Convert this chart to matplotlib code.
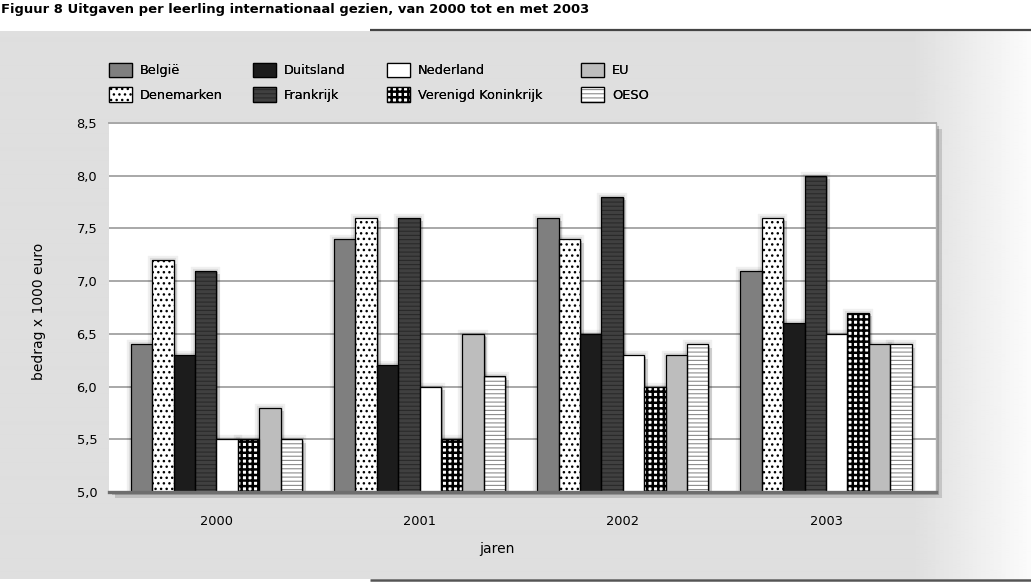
import numpy as np
import matplotlib
matplotlib.use('Agg')
import matplotlib.pyplot as plt
from matplotlib.patches import Patch, Rectangle
from matplotlib.legend_handler import HandlerTuple, HandlerPatch
import matplotlib.patheffects as pe
from matplotlib.ticker import FuncFormatter

plt.rcParams['font.family'] = ['DejaVu Sans']

# ---------------- data ----------------
title = "Figuur 8 Uitgaven per leerling internationaal gezien, van 2000 tot en met 2003"
years = ['2000', '2001', '2002', '2003']
countries = ['België', 'Denemarken', 'Duitsland', 'Frankrijk',
             'Nederland', 'Verenigd Koninkrijk', 'EU', 'OESO']
belgie = [6.4, 7.4, 7.6, 7.1]
denemarken = [7.2, 7.6, 7.4, 7.6]
duitsland = [6.3, 6.2, 6.5, 6.6]
frankrijk = [7.1, 7.6, 7.8, 8.0]
nederland = [5.5, 6.0, 6.3, 6.5]
verenigd_koninkrijk = [5.5, 5.5, 6.0, 6.7]
eu = [5.8, 6.5, 6.3, 6.4]
oeso = [5.5, 6.1, 6.4, 6.4]
yticks = [5.0, 5.5, 6.0, 6.5, 7.0, 7.5, 8.0, 8.5]
ylabel = 'bedrag x 1000 euro'
xlabel = 'jaren'

series = [belgie, denemarken, duitsland, frankrijk,
          nederland, verenigd_koninkrijk, eu, oeso]

# styles: face, hatch, hatch colour, hatch linewidth
styles = [
    ('#7f7f7f', None, '#7f7f7f', 1.0),
    ('#ffffff', '...', '#000000', 1.0),
    ('#1c1c1c', None, '#1c1c1c', 1.0),
    ('#404040', '----', '#2a2a2a', 0.8),
    ('#ffffff', None, '#ffffff', 1.0),
    ('#ffffff', '+++', '#000000', 1.8),
    ('#bdbdbd', None, '#bdbdbd', 1.0),
    ('#ffffff', '----', '#8c8c8c', 0.8),
]

W, H = 1031, 582
fig = plt.figure(figsize=(W / 100, H / 100), dpi=100)
fig.patch.set_facecolor('white')

# ---------------- background ----------------
bg = fig.add_axes([0, 0, 1, 1], zorder=-10)
cols = np.arange(W)
grad = np.where(cols < 912, 0.872, 0.872 + (0.985 - 0.872) * (cols - 912) / (W - 912))
img = np.tile(grad, (10, 1))
bg.imshow(img, cmap='gray', vmin=0, vmax=1, extent=(0, W, 579, 31), aspect='auto',
          interpolation='bilinear')
bg.plot([370, W], [30, 30], color='#444444', lw=1.6, solid_capstyle='butt')
bg.plot([370, W], [580, 580], color='#555555', lw=1.8, solid_capstyle='butt')
bg.set_xlim(0, W)
bg.set_ylim(H, 0)
bg.axis('off')

fig.text(1 / W, 1 - 10 / H, title, fontsize=9.45, fontweight='bold',
         ha='left', va='center')

# ---------------- main axes ----------------
left, right, top, bottom = 109, 936, 123, 492
ax = fig.add_axes([left / W, 1 - bottom / H, (right - left) / W, (bottom - top) / H])
ax.set_facecolor('white')
ax.patch.set_path_effects([
    pe.SimplePatchShadow(offset=(2.5, -2.5), shadow_rgbFace='black', alpha=0.18),
    pe.SimplePatchShadow(offset=(4.5, -4.5), shadow_rgbFace='black', alpha=0.14),
    pe.Normal()])

x = np.arange(len(years))
w = 0.1053
n = len(series)
shadow = [pe.Stroke(linewidth=6, foreground='black', alpha=0.06),
          pe.Stroke(linewidth=3, foreground='black', alpha=0.08),
          pe.SimplePatchShadow(offset=(1.2, -1.2), shadow_rgbFace='black', alpha=0.2),
          pe.SimplePatchShadow(offset=(2.6, -2.6), shadow_rgbFace='black', alpha=0.14)]

handles = []
for i, (vals, (face, hatch, hcol, hlw)) in enumerate(zip(series, styles)):
    pos = x + (i - (n - 1) / 2) * w
    vals = np.asarray(vals)
    # shadow layer
    sh = ax.bar(pos, vals - yticks[0], bottom=yticks[0], width=w, color='black',
                linewidth=0, zorder=2)
    for p in sh:
        p.set_path_effects(shadow)
    fill = ax.bar(pos, vals - yticks[0], bottom=yticks[0], width=w, color=face,
                  edgecolor=hcol, hatch=hatch, linewidth=0, zorder=3)
    for p in fill:
        if hasattr(p, 'set_hatch_linewidth'):
            p.set_hatch_linewidth(hlw)
    ax.bar(pos, vals - yticks[0], bottom=yticks[0], width=w, fill=False,
           edgecolor='black', linewidth=0.9, zorder=4)
    h1 = Patch(facecolor=face, edgecolor=hcol, hatch=hatch, linewidth=0)
    if hasattr(h1, 'set_hatch_linewidth'):
        h1.set_hatch_linewidth(hlw)
    h2 = Patch(fill=False, edgecolor='black', linewidth=0.9)
    handles.append((h1, h2))

ax.set_xlim(-0.529, 3.541)
ax.set_ylim(yticks[0], yticks[-1])
ax.set_yticks(yticks)
ax.yaxis.set_major_formatter(FuncFormatter(lambda v, p: f'{v:.1f}'.replace('.', ',')))
ax.set_xticks(x)
ax.set_xticklabels(years)
ax.tick_params(axis='y', length=0, pad=8.5, labelsize=9.4)
ax.tick_params(axis='x', length=0, pad=16.5, labelsize=9.3)
ax.set_axisbelow(True)
ax.grid(axis='y', color='#a8a8a8', lw=1.4, zorder=0)
ax.spines['left'].set_visible(False)
ax.spines['top'].set_color('#a8a8a8')
ax.spines['top'].set_linewidth(1.4)
ax.spines['right'].set_color('#b0b0b0')
ax.spines['right'].set_linewidth(1.0)
ax.spines['bottom'].set_color('#6e6e6e')
ax.spines['bottom'].set_linewidth(2.4)
ax.spines['bottom'].set_zorder(5)

fig.text(39 / W, 1 - 311 / H, ylabel, rotation=90, ha='center', va='center', fontsize=10)
fig.text(497 / W, 1 - 549 / H, xlabel, ha='center', va='center', fontsize=10)


# ---------------- legend (4 columns of 2) ----------------
def make_patch(legend, orig_handle, xdescent, ydescent, width, height, fontsize):
    p = Rectangle((-xdescent, -ydescent), width, height)
    if hasattr(orig_handle, 'get_hatch_linewidth') and hasattr(p, 'set_hatch_linewidth'):
        p.set_hatch_linewidth(orig_handle.get_hatch_linewidth())
    return p


col_x = [109, 253, 387, 581]
fs = 9.3
em = fs * 100 / 72
for c in range(4):
    hs = [handles[2 * c], handles[2 * c + 1]]
    labs = [countries[2 * c], countries[2 * c + 1]]
    leg = fig.legend(hs, labs, loc='center left',
                     bbox_to_anchor=(col_x[c] / W, 1 - 82.5 / H),
                     frameon=False, fontsize=fs, borderpad=0, borderaxespad=0,
                     handlelength=23 / em, handleheight=17 / em,
                     handletextpad=8 / em, labelspacing=10 / em,
                     handler_map={tuple: HandlerTuple(ndivide=1, pad=0),
                                  Patch: HandlerPatch(patch_func=make_patch)})
    fig.add_artist(leg)

fig.savefig('out.png', dpi=100, facecolor=fig.get_facecolor())
